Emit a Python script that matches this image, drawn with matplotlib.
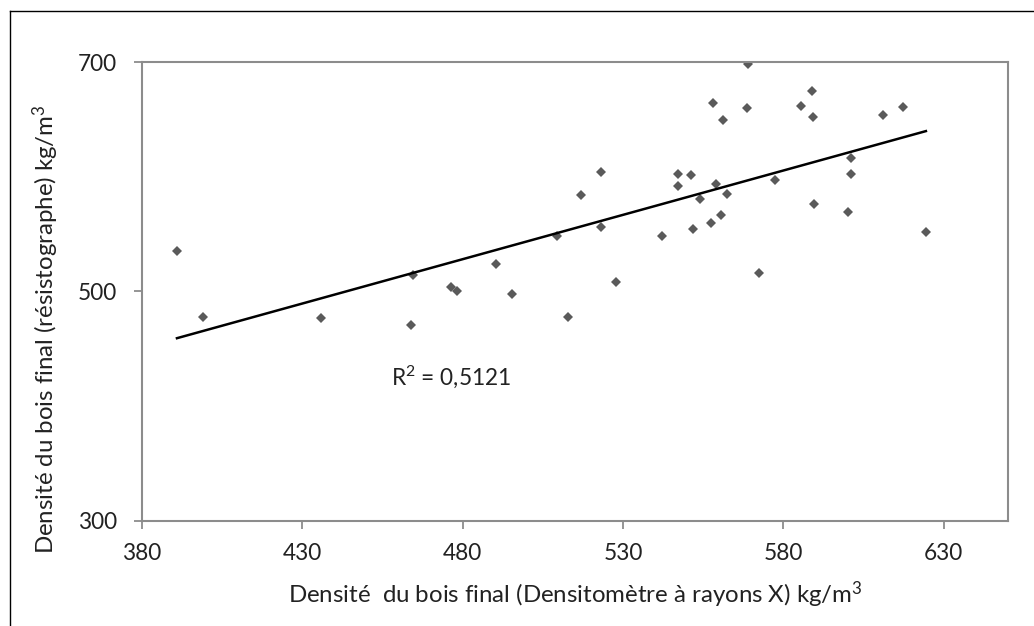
import numpy as np
import matplotlib.pyplot as plt
from matplotlib.lines import Line2D

plt.rcParams['font.family'] = ['Lato', 'DejaVu Sans']
plt.rcParams['mathtext.fontset'] = 'custom'
plt.rcParams['mathtext.rm'] = 'Lato'
plt.rcParams['mathtext.it'] = 'Lato:italic'
plt.rcParams['mathtext.bf'] = 'Lato:bold'

# densité X (densitomètre) et densité résistographe, kg/m3
dens_rx = [391.0, 399.2, 436.0, 464.5, 463.9, 476.4, 478.3, 490.4, 495.4,
           568.9, 588.9, 558.0, 568.6, 585.6, 589.3, 561.3, 611.0, 617.2,
           523.2, 547.2, 551.3, 547.0, 559.1, 601.0, 601.2, 577.5, 516.8,
           553.9, 562.3, 560.6, 557.4, 551.9, 542.2, 523.0, 509.5, 589.6,
           600.0, 624.4, 527.9, 572.5, 512.8]
dens_res = [535.6, 477.4, 476.8, 514.1, 470.7, 503.6, 500.7, 523.7, 498.0,
            698.3, 675.2, 664.7, 660.1, 661.9, 652.5, 649.4, 654.3, 661.0,
            604.5, 602.8, 601.4, 591.8, 594.0, 616.2, 602.5, 597.0, 584.2,
            580.4, 585.3, 566.7, 560.0, 554.8, 548.1, 556.5, 548.1, 576.0,
            569.0, 551.9, 508.0, 516.4, 478.0]
r2_label = r"R$^\mathregular{2}$ = 0,5121"

x = np.array(dens_rx)
y = np.array(dens_res)
slope, intercept = np.polyfit(x, y, 1)

fig = plt.figure(figsize=(10.34, 6.26), dpi=100)
ax = fig.add_axes([0.1370, 0.1682, 0.8379, 0.7323])

ax.plot(x, y, linestyle='none', marker='D', markersize=5.6,
        color='#5a5a5a', markeredgewidth=0)
xl = np.array([x.min(), x.max()])
ax.plot(xl, slope * xl + intercept, color='black', linewidth=1.8)

ax.text(457.8, 425.6, r2_label, fontsize=16.3, color='#222222', va='center')

ax.set_xlim(380, 650)
ax.set_ylim(300, 700)
ax.set_xticks(np.arange(380, 631, 50))
ax.set_yticks([300, 500, 700])

for s in ax.spines.values():
    s.set_color('#8c8c8c')
    s.set_linewidth(1.5)
ax.tick_params(axis='both', colors='#8c8c8c', length=6, width=1.3,
               labelcolor='#222222', labelsize=16.3)
ax.tick_params(axis='x', pad=10)
ax.tick_params(axis='y', pad=12)

ax.set_xlabel(r"Densité  du bois final (Densitomètre à rayons X) kg/m$^\mathregular{3}$",
              fontsize=17.3, color='#222222', va='center', ha='center')
ax.set_ylabel(r"Densité du bois final (résistographe) kg/m$^\mathregular{3}$",
              fontsize=17.3, color='#222222', va='center', ha='center')
ax.xaxis.set_label_coords(0.5008, -0.162)
ax.yaxis.set_label_coords(-0.1105, 0.418)

# cadre extérieur (coupé à droite et en bas)
W, H = 1034, 626
fig.add_artist(Line2D([10 / W, 10 / W], [0, 1 - 11 / H], color='black', linewidth=1))
fig.add_artist(Line2D([10 / W, 1], [1 - 11 / H, 1 - 11 / H], color='black', linewidth=1))

fig.savefig('out.png', dpi=100)
